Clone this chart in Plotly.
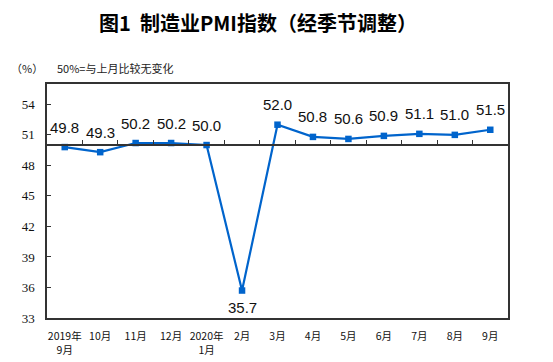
import plotly.graph_objects as go

categories = ["2019年<br>9月", "10月", "11月", "12月", "2020年<br>1月", "2月", "3月",
              "4月", "5月", "6月", "7月", "8月", "9月"]
pmi = [49.8, 49.3, 50.2, 50.2, 50.0, 35.7, 52.0, 50.8, 50.6, 50.9, 51.1, 51.0, 51.5]
y_ticks = [33, 36, 39, 42, 45, 48, 51, 54]
y_range = [33, 56]
baseline = 50

xs = list(range(len(categories)))
blue = "#0064CC"
axis_col = "#333333"

fig = go.Figure()
fig.add_trace(go.Scatter(
    x=xs, y=pmi, mode="lines+markers",
    line=dict(color=blue, width=2.2),
    marker=dict(symbol="square", size=6.5, color=blue),
    showlegend=False, hoverinfo="skip",
))

# baseline axis (50 line) with upward ticks at category boundaries
fig.add_trace(go.Scatter(x=[xs[0]], y=[baseline], xaxis="x2", mode="markers",
                         marker=dict(opacity=0), showlegend=False, hoverinfo="skip"))

for x, v in zip(xs, pmi):
    below = v < 40
    fig.add_annotation(
        x=x, y=v, xref="x", yref="y", text=f"{v:.1f}", showarrow=False,
        yshift=-17 if below else 20,
        font=dict(family="Liberation Sans, Arial", size=15, color="#111111"),
    )

fig.add_annotation(text="<b>图1  制造业PMI指数（经季节调整）</b>", xref="paper", yref="paper",
                   x=0.5, xshift=-20, y=1.0, yshift=62, xanchor="center", yanchor="middle",
                   showarrow=False,
                   font=dict(family="Noto Sans CJK SC", size=20, color="#000000"))
fig.add_annotation(text="（%）", xref="paper", yref="paper", x=0, xshift=-38, y=1.0, yshift=16,
                   xanchor="left", yanchor="middle", showarrow=False,
                   font=dict(family="Noto Sans CJK SC", size=11, color="#222222"))
fig.add_annotation(text="50%=与上月比较无变化", xref="paper", yref="paper", x=0, xshift=8, y=1.0, yshift=16,
                   xanchor="left", yanchor="middle", showarrow=False,
                   font=dict(family="Noto Sans CJK SC", size=11, color="#222222"))

base_pos = (baseline - y_range[0]) / (y_range[1] - y_range[0])

fig.update_layout(
    width=553, height=362,
    margin=dict(l=47, r=45, t=84, b=44, autoexpand=False),
    paper_bgcolor="white", plot_bgcolor="white",
    xaxis=dict(
        range=[-0.5, len(categories) - 0.5], automargin=False,
        tickmode="array", tickvals=xs, ticktext=categories,
        showline=True, linecolor=axis_col, linewidth=1.5, mirror=True,
        ticks="", showgrid=False, zeroline=False, ticklabelstandoff=8,
        tickfont=dict(family="Noto Sans CJK SC", size=10.5, color="#111111"),
    ),
    xaxis2=dict(
        overlaying="x", anchor="free", position=base_pos, side="top", automargin=False,
        range=[-0.5, len(categories) - 0.5],
        tickmode="array", tickvals=[x + 0.5 for x in xs[:-1]],
        showticklabels=False, ticks="outside", ticklen=4, tickcolor=axis_col,
        showline=True, linecolor=axis_col, linewidth=1.5,
        showgrid=False, zeroline=False,
    ),
    yaxis=dict(
        range=y_range, tickmode="array", tickvals=y_ticks, automargin=False,
        showline=True, linecolor=axis_col, linewidth=1.5, mirror=True,
        ticks="inside", ticklen=4, tickcolor=axis_col,
        showgrid=False, zeroline=False, ticklabelstandoff=8,
        tickfont=dict(family="Liberation Serif", size=13, color="#111111"),
    ),
)

fig.write_html("out.html", config={"displayModeBar": False},
               post_script="document.body.style.margin='0';document.body.style.padding='0';")
